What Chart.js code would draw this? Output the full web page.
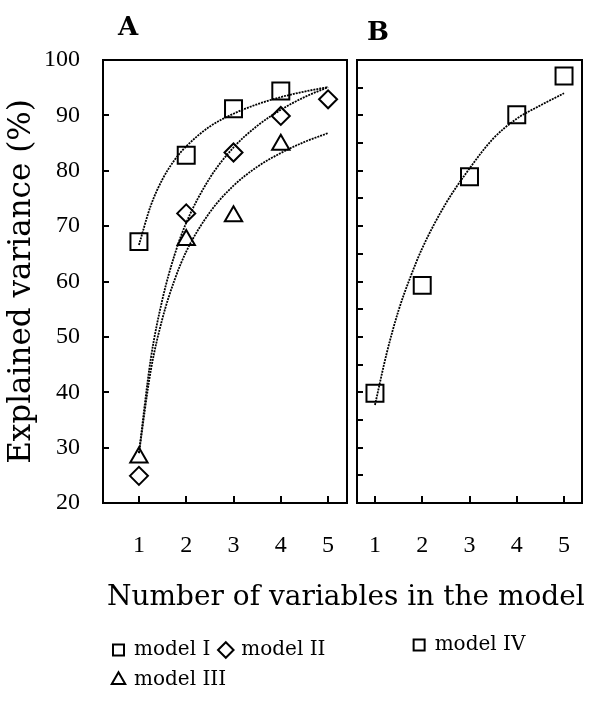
<!DOCTYPE html>
<html>
<head>
<meta charset="utf-8">
<script src="https://cdn.jsdelivr.net/npm/chart.js@4/dist/chart.umd.min.js"></script>
<style>
    html, body { margin: 0; padding: 0; background: #fff; }
    #wrap { position: relative; width: 600px; height: 709px; }
    #wrap canvas { position: absolute; top: 0; }
    #chartA { left: 0; }
    #chartB { left: 350px; }
</style>
</head>
<body>
<div id="wrap">
    <canvas id="chartA" width="600" height="709"></canvas>
    <canvas id="chartB" width="250" height="709"></canvas>
</div>
<script>
// Values
const xValues = [1, 2, 3, 4, 5];
const yTickValues = [20, 25, 30, 35, 40, 45, 50, 55, 60, 65, 70, 75, 80, 85, 90, 95, 100];

// Panel A, measured points
const modelI   = [67.2, 82.8, 91.2, 94.4];
const modelII  = [24.9, 72.3, 83.3, 89.9, 92.9];
const modelIII = [28.2, 67.5, 71.8, 84.7];
// Panel B, measured points
const modelIV  = [39.8, 59.3, 78.9, 90.1, 97.1];

// Fitted curves at these x positions
const curveX   = [1, 1.25, 1.5, 1.75, 2, 2.5, 3, 3.5, 4, 4.5, 5];
const curveI   = [66.6, 73.7, 78.5, 81.9, 84.4, 88.0, 90.3, 92.0, 93.3, 94.3, 95.1];
const curveII  = [29.0, 46.0, 56.9, 64.7, 70.6, 78.7, 84.2, 88.1, 91.0, 93.3, 95.1];
const curveIII = [29.0, 43.9, 53.4, 60.2, 65.4, 72.5, 77.3, 80.7, 83.2, 85.2, 86.8];
const curveIV  = [37.7, 47.1, 54.8, 60.8, 66.0, 74.1, 80.4, 85.8, 89.4, 91.8, 94.0];

const SERIF = "'DejaVu Serif', serif";
const TICK_FONT = { family: "'Liberation Serif', serif", size: 24 };

Chart.defaults.color = '#000';
Chart.defaults.font.family = SERIF;

function toPoints(xs, ys) {
    return ys.map((y, i) => ({ x: xs[i], y: y }));
}

function markerSet(label, values, style, radius) {
    return {
        label: label,
        data: toPoints(xValues, values),
        pointStyle: style,
        pointRadius: radius,
        pointBorderWidth: 2,
        borderWidth: 2,
        borderColor: '#000',
        backgroundColor: 'rgba(0,0,0,0)',
        showLine: false
    };
}

function curveSet(values) {
    return {
        label: '',
        data: toPoints(curveX, values),
        showLine: true,
        pointRadius: 0,
        borderColor: '#000',
        borderWidth: 1.8,
        borderDash: [2, 1],
        cubicInterpolationMode: 'monotone',
        fill: false
    };
}

// box round the plot area plus inward tick marks
const framePlugin = {
    id: 'frame',
    afterDatasetsDraw(chart) {
        const { ctx, chartArea: a, scales: { x, y } } = chart;
        ctx.save();
        ctx.strokeStyle = '#000';
        ctx.lineWidth = 2;
        ctx.strokeRect(a.left, a.top, a.right - a.left, a.bottom - a.top);
        ctx.beginPath();
        y.ticks.forEach(t => {
            const py = Math.round(y.getPixelForValue(t.value));
            ctx.moveTo(a.left, py);
            ctx.lineTo(a.left + 6, py);
        });
        x.ticks.forEach(t => {
            const px = Math.round(x.getPixelForValue(t.value));
            ctx.moveTo(px, a.bottom);
            ctx.lineTo(px, a.bottom - 7);
        });
        ctx.stroke();
        ctx.restore();
    }
};

// panel letters and the shared x title
const textPlugin = {
    id: 'extraText',
    afterDraw(chart, args, opts) {
        const ctx = chart.ctx;
        (opts.items || []).forEach(it => {
            ctx.save();
            ctx.font = it.font;
            ctx.fillStyle = '#000';
            ctx.textAlign = 'left';
            ctx.textBaseline = 'middle';
            ctx.fillText(it.text, chart.chartArea.left + it.dx, it.y);
            ctx.restore();
        });
    }
};

function buildOptions(cfg) {
    return {
        responsive: false,
        animation: false,
        layout: { padding: cfg.padding, autoPadding: false },
        plugins: {
            tooltip: { enabled: false },
            legend: {
                display: true,
                position: 'bottom',
                align: cfg.legendAlign,
                fullSize: false,
                labels: {
                    usePointStyle: true,
                    boxWidth: 11,
                    boxHeight: 11,
                    padding: 10,
                    color: '#000',
                    font: { family: SERIF, size: 20 },
                    filter: item => item.text !== ''
                }
            },
            extraText: { items: cfg.texts }
        },
        scales: {
            x: {
                type: 'linear',
                min: cfg.xMin,
                max: cfg.xMax,
                afterBuildTicks: scale => { scale.ticks = xValues.map(v => ({ value: v })); },
                afterFit: scale => { scale.height = cfg.xHeight; },
                grid: { display: false, drawTicks: true, tickLength: 26 },
                border: { display: false },
                ticks: { padding: 2, font: TICK_FONT, color: '#000' }
            },
            y: {
                type: 'linear',
                min: 20,
                max: 100,
                afterBuildTicks: scale => { scale.ticks = yTickValues.map(v => ({ value: v })); },
                afterFit: scale => { scale.width = cfg.yWidth; },
                grid: { display: false, drawTicks: false },
                border: { display: false },
                ticks: {
                    display: cfg.showYLabels,
                    padding: 23,
                    font: TICK_FONT,
                    color: '#000',
                    callback: v => (v % 10 === 0 ? String(v) : '')
                },
                title: {
                    display: cfg.showYLabels,
                    text: 'Explained variance (%)',
                    font: { family: SERIF, size: 31 },
                    color: '#000',
                    padding: { top: 3, bottom: 0 }
                }
            }
        }
    };
}

new Chart(document.getElementById('chartA'), {
    type: 'scatter',
    data: {
        datasets: [
            curveSet(curveI),
            curveSet(curveII),
            curveSet(curveIII),
            markerSet('model I', modelI, 'rect', 12),
            markerSet('model II', modelII, 'rectRot', 9),
            markerSet('model III', modelIII, 'triangle', 10)
        ]
    },
    options: buildOptions({
        padding: { left: 0, right: 253, top: 60, bottom: 9 },
        legendAlign: 'start',
        xMin: 0.24, xMax: 5.4,
        xHeight: 127,
        yWidth: 103,
        showYLabels: true,
        texts: [
            { text: 'A', dx: 15, y: 28, font: "bold 26px 'DejaVu Serif'" },
            { text: 'Number of variables in the model', dx: 4, y: 598, font: "28px 'DejaVu Serif'" }
        ]
    }),
    plugins: [framePlugin, textPlugin]
});

new Chart(document.getElementById('chartB'), {
    type: 'scatter',
    data: {
        datasets: [
            curveSet(curveIV),
            markerSet('model IV', modelIV, 'rect', 12)
        ]
    },
    options: buildOptions({
        padding: { left: 0, right: 18, top: 60, bottom: 44 },
        legendAlign: 'center',
        xMin: 0.62, xMax: 5.38,
        xHeight: 122,
        yWidth: 7,
        showYLabels: false,
        texts: [
            { text: 'B', dx: 10, y: 33, font: "bold 26px 'DejaVu Serif'" }
        ]
    }),
    plugins: [framePlugin, textPlugin]
});
</script>
</body>
</html>
